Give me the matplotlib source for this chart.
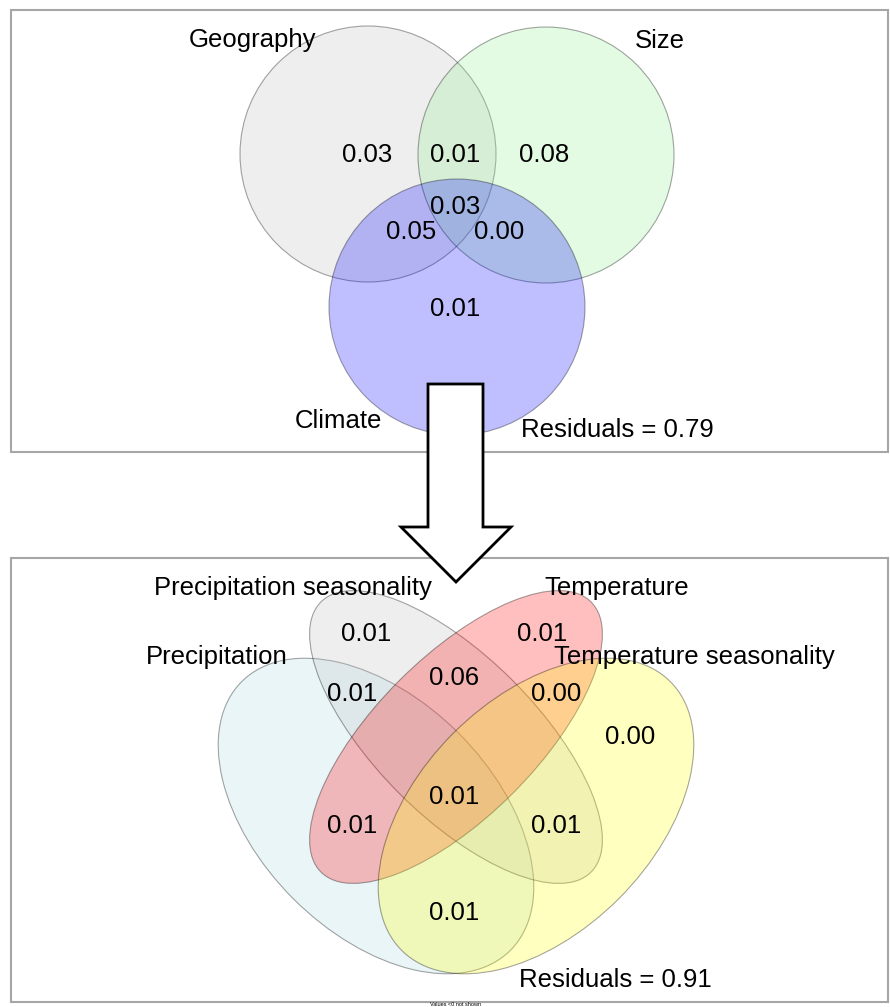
import matplotlib.pyplot as plt
from matplotlib.patches import Circle, Ellipse, Rectangle, Polygon

plt.rcParams['font.family'] = ['Liberation Sans', 'DejaVu Sans']

# --- data ---
top_sets = ["Geography", "Size", "Climate"]
top_colors = ["#bebebe", "lightgreen", "blue"]
# fractions: Geo only, Geo&Size, Size only, all three, Geo&Clim, Size&Clim, Clim only
top_fractions = [0.03, 0.01, 0.08, 0.03, 0.05, 0.00, 0.01]
top_residual = 0.79

bot_sets = ["Precipitation", "Precipitation seasonality", "Temperature",
            "Temperature seasonality"]
bot_colors = ["lightblue", "#bebebe", "red", "yellow"]
# fractions: PS only, T only, P&PS, PS&T, T&TS, TS only, centre, P&T side, PS&TS side, P&TS bottom
bot_fractions = [0.01, 0.01, 0.01, 0.06, 0.00, 0.00, 0.01, 0.01, 0.01, 0.01]
bot_residual = 0.91

# --- layout (pixel coordinates) ---
top_circle_xy = [(368, 154), (546, 155), (457, 307)]
top_radius = 128
top_label_xy = [(253, 40), (660, 41), (338, 421)]
top_value_xy = [(367, 155), (455, 155), (544, 155), (455, 207),
                (411, 232), (499, 232), (455, 309)]

bot_ell = [((376, 816), 380, 234, 45), ((456, 737), 382, 160, 45),
           ((456, 737), 382, 160, -45), ((536, 816), 380, 234, -45)]
bot_label_xy = [(217, 657), (293, 588), (617, 588), (694, 657)]
bot_value_xy = [(366, 634), (542, 634), (352, 694), (454, 678), (556, 694),
                (630, 737), (454, 797), (352, 826), (556, 826), (454, 913)]

fig = plt.figure(figsize=(8.9, 10.07), dpi=100)
ax = fig.add_axes([0, 0, 1, 1])
ax.set_xlim(0, 890)
ax.set_ylim(1007, 0)
ax.axis('off')

fs = 18.5
edge = (0, 0, 0, 0.35)

# panel frames
ax.add_patch(Rectangle((11, 10), 877, 442, fill=False, ec='#a6a6a6', lw=1.5))
ax.add_patch(Rectangle((11, 558), 877, 444, fill=False, ec='#a6a6a6', lw=1.5))

# top panel
for xy, col in zip(top_circle_xy, top_colors):
    ax.add_patch(Circle(xy, top_radius, fc=col, alpha=0.25, ec='none'))
    ax.add_patch(Circle(xy, top_radius, fill=False, ec=edge, lw=0.8))
for name, xy in zip(top_sets, top_label_xy):
    ax.text(xy[0], xy[1], name, ha='center', va='center', fontsize=fs)
for v, xy in zip(top_fractions, top_value_xy):
    ax.text(xy[0], xy[1], f"{v:.2f}", ha='center', va='center', fontsize=fs)
ax.text(521, 430, f"Residuals = {top_residual:.2f}", ha='left', va='center', fontsize=fs)

# bottom panel
for (c, w, h, ang), col in zip(bot_ell, bot_colors):
    ax.add_patch(Ellipse(c, w, h, angle=ang, fc=col, alpha=0.25, ec='none'))
    ax.add_patch(Ellipse(c, w, h, angle=ang, fill=False, ec=edge, lw=0.8))
for name, xy in zip(bot_sets, bot_label_xy):
    ax.text(xy[0], xy[1], name, ha='center', va='center', fontsize=fs)
for v, xy in zip(bot_fractions, bot_value_xy):
    ax.text(xy[0], xy[1], f"{v:.2f}", ha='center', va='center', fontsize=fs)
ax.text(519, 980, f"Residuals = {bot_residual:.2f}", ha='left', va='center', fontsize=fs)
ax.text(456, 1004, "Values <0 not shown", ha='center', va='center', fontsize=4)

# block arrow between panels
arrow = [(428, 384), (483, 384), (483, 527), (511, 527), (456, 582),
         (401, 527), (428, 527)]
ax.add_patch(Polygon(arrow, closed=True, fc='white', ec='black', lw=2, zorder=5))

fig.savefig("out.png", dpi=100)
